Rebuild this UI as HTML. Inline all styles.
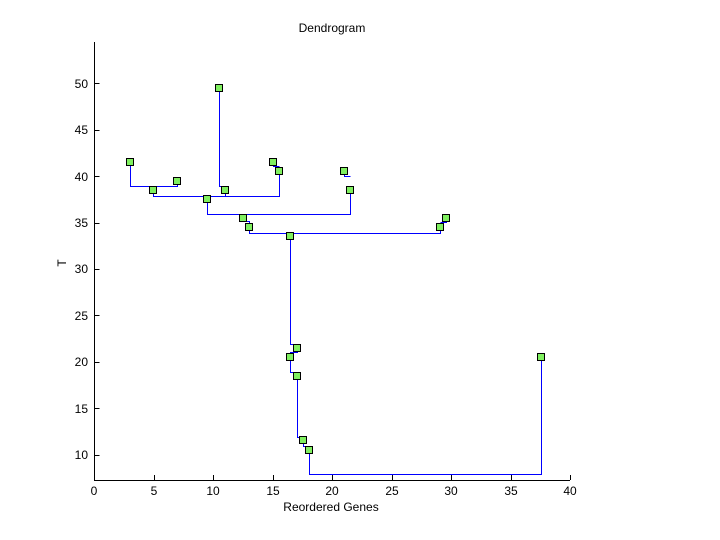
<!DOCTYPE html>
<html><head><style>body{margin:0;background:#fff}svg{display:block}</style></head><body>
<svg width="720" height="540" xmlns="http://www.w3.org/2000/svg" font-family="Liberation Sans, sans-serif" font-size="12">
<rect width="720" height="540" fill="#fff"/>
<text x="332" y="32" text-anchor="middle">Dendrogram</text>
<g stroke="#000" fill="none" shape-rendering="crispEdges">
<path d="M94.5 42V480.5H570"/>
<path d="M94.5 455.5h5M94.5 408.5h5M94.5 362.5h5M94.5 315.5h5M94.5 269.5h5M94.5 223.5h5M94.5 176.5h5M94.5 130.5h5M94.5 83.5h5"/>
<path d="M94.5 480v-5M154.5 480v-5M213.5 480v-5M273.5 480v-5M332.5 480v-5M392.5 480v-5M451.5 480v-5M511.5 480v-5M570.5 480v-5"/>
</g>
<g text-anchor="end">
<text x="88" y="459">10</text><text x="88" y="413">15</text><text x="88" y="366">20</text><text x="88" y="320">25</text><text x="88" y="273">30</text><text x="88" y="227">35</text><text x="88" y="181">40</text><text x="88" y="134">45</text><text x="88" y="88">50</text>
</g>
<g text-anchor="middle">
<text x="94" y="495">0</text><text x="154" y="495">5</text><text x="213" y="495">10</text><text x="273" y="495">15</text><text x="332" y="495">20</text><text x="392" y="495">25</text><text x="451" y="495">30</text><text x="511" y="495">35</text><text x="570" y="495">40</text>
<text x="331" y="511">Reordered Genes</text>
</g>
<text x="66" y="263" text-anchor="middle" transform="rotate(-90 66 263)">T</text>
<g stroke="#0000ff" fill="none" stroke-width="1.3" shape-rendering="crispEdges">
<path d="M130.5 162V186.5H177.5V181M153.5 190V196.5H279.5V171M219.5 88V186.5H225.5V190M225.5 190V196.5M273.5 162V166.5H279.5"/>
<path d="M207.5 199V214.5H350.5V190M344.5 171V176.5H350.5"/>
<path d="M243.5 218V221.5H249.5V233.5H440.5V227M446.5 218V222.5H440.5"/>
<path d="M290.5 236V344.5H297.5V352.5H290.5V372.5H297.5V437.5H303.5V446.5H309.5V474.5H541.5V357"/>
</g>
<g fill="#80f060" stroke="#000" stroke-width="1" shape-rendering="crispEdges">
<rect x="126.5" y="158.5" width="7" height="7"/><rect x="149.5" y="186.5" width="7" height="7"/><rect x="173.5" y="177.5" width="7" height="7"/><rect x="215.5" y="84.5" width="7" height="7"/><rect x="221.5" y="186.5" width="7" height="7"/><rect x="203.5" y="195.5" width="7" height="7"/><rect x="269.5" y="158.5" width="7" height="7"/><rect x="275.5" y="167.5" width="7" height="7"/><rect x="340.5" y="167.5" width="7" height="7"/><rect x="346.5" y="186.5" width="7" height="7"/><rect x="239.5" y="214.5" width="7" height="7"/><rect x="245.5" y="223.5" width="7" height="7"/><rect x="286.5" y="232.5" width="7" height="7"/><rect x="436.5" y="223.5" width="7" height="7"/><rect x="442.5" y="214.5" width="7" height="7"/><rect x="293.5" y="344.5" width="7" height="7"/><rect x="286.5" y="353.5" width="7" height="7"/><rect x="293.5" y="372.5" width="7" height="7"/><rect x="299.5" y="436.5" width="7" height="7"/><rect x="305.5" y="446.5" width="7" height="7"/><rect x="537.5" y="353.5" width="7" height="7"/>
</g>
</svg>
</body></html>
